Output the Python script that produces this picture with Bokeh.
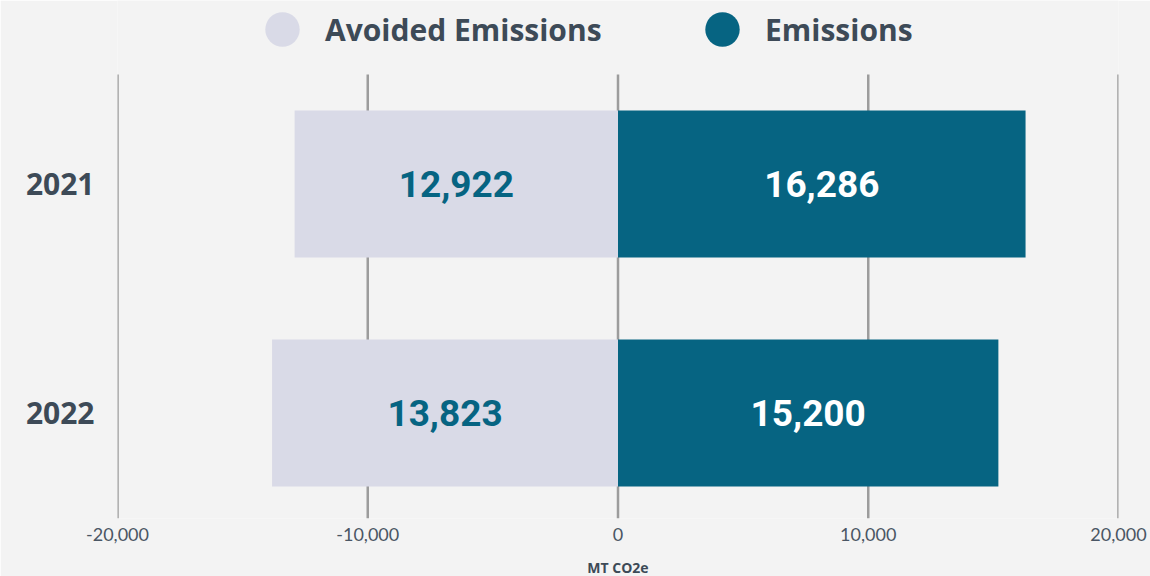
from bokeh.plotting import figure
from bokeh.models import (ColumnDataSource, Range1d, FixedTicker, NumeralTickFormatter,
                          Legend, LegendItem)
from bokeh.core.properties import value
from bokeh.embed import file_html
from bokeh.resources import INLINE

# ---- data ----
years = ["2021", "2022"]
avoided = [12922, 13823]
emissions = [16286, 15200]
x_ticks = [-20000, -10000, 0, 10000, 20000]

# ---- styles ----
BG = "#f3f3f3"
LIGHT = "#d9dae7"
DARK = "#066482"
TEXT = "#3d4a57"
GRID = "#9c9c9c"

ys = list(range(len(years)))
src = ColumnDataSource(dict(
    y=ys,
    avoided_neg=[-v for v in avoided],
    emissions=emissions,
    avoided_mid=[-v / 2 for v in avoided],
    emissions_mid=[v / 2 for v in emissions],
    avoided_lbl=[f"{v:,}" for v in avoided],
    emissions_lbl=[f"{v:,}" for v in emissions],
))

Y_BOTTOM, Y_TOP_GRID, Y_TOP = 1.461, -0.478, -0.801

p = figure(width=1150, height=576, output_backend="svg", toolbar_location=None,
           x_range=Range1d(-20000, 20000), y_range=Range1d(Y_BOTTOM, Y_TOP),
           min_border_left=117, min_border_right=32, min_border_top=0, min_border_bottom=58)
p.frame_width = 1001
p.frame_height = 518

p.background_fill_color = BG
p.border_fill_color = BG
p.outline_line_color = None

# vertical grid lines at the tick positions
grid_src = ColumnDataSource(dict(x=x_ticks, y0=[Y_BOTTOM] * len(x_ticks),
                                 y1=[Y_TOP_GRID] * len(x_ticks)))
p.segment(x0="x", x1="x", y0="y0", y1="y1", source=grid_src,
          line_color=GRID, line_width=2.5, level="underlay")
p.xgrid.visible = False
p.ygrid.visible = False

p.hbar(y="y", left="avoided_neg", right=0, height=0.642, source=src,
       fill_color=LIGHT, line_color=None)
p.hbar(y="y", left=0, right="emissions", height=0.642, source=src,
       fill_color=DARK, line_color=None)

p.text(x="avoided_mid", y="y", text="avoided_lbl", source=src,
       text_font=value("Roboto"), text_font_size="37px", text_font_style="bold",
       text_color=DARK, text_align="center", text_baseline="middle")
p.text(x="emissions_mid", y="y", text="emissions_lbl", source=src,
       text_font=value("Roboto"), text_font_size="37px", text_font_style="bold",
       text_color="white", text_align="center", text_baseline="middle")

# x axis
p.xaxis.ticker = FixedTicker(ticks=x_ticks)
p.xaxis.formatter = NumeralTickFormatter(format="0,0")
p.xaxis.axis_line_color = None
p.xaxis.major_tick_line_color = None
p.xaxis.minor_tick_line_color = None
p.xaxis.major_label_text_font = "Lato"
p.xaxis.major_label_text_font_size = "18px"
p.xaxis.major_label_text_color = "#4a5664"
p.xaxis.major_label_standoff = 3
p.xaxis.axis_label = "MT CO2e"
p.xaxis.axis_label_text_font = "Open Sans"
p.xaxis.axis_label_text_font_style = "bold"
p.xaxis.axis_label_text_font_size = "14px"
p.xaxis.axis_label_text_color = TEXT
p.xaxis.axis_label_standoff = 14

# y axis
p.yaxis.ticker = FixedTicker(ticks=ys)
p.yaxis.major_label_overrides = {i: y for i, y in zip(ys, years)}
p.yaxis.axis_line_color = None
p.yaxis.major_tick_line_color = None
p.yaxis.minor_tick_line_color = None
p.yaxis.major_label_text_font = "Open Sans"
p.yaxis.major_label_text_font_style = "bold"
p.yaxis.major_label_text_font_size = "30px"
p.yaxis.major_label_text_color = TEXT
p.yaxis.major_label_standoff = 17

# legend (two single-item legends for precise placement); zero-size markers
d_av = p.scatter(x="avoided_neg", y="y", source=src, size=0, marker="circle",
                 fill_color=LIGHT, line_color=None)
d_em = p.scatter(x="emissions", y="y", source=src, size=0, marker="circle",
                 fill_color=DARK, line_color=None)

for rend, label, loc in [(d_av, "Avoided Emissions", (122, 444)),
                         (d_em, "Emissions", (562, 444))]:
    lg = Legend(items=[LegendItem(label=label, renderers=[rend], index=0)], location=loc,
                glyph_width=86, glyph_height=90, label_standoff=0,
                padding=0, margin=0, spacing=0,
                background_fill_alpha=0, border_line_alpha=0,
                label_text_font="Open Sans", label_text_font_style="bold",
                label_text_font_size="30px", label_text_color=TEXT)
    p.add_layout(lg, "center")

open("out.html", "w").write(file_html(p, INLINE))
